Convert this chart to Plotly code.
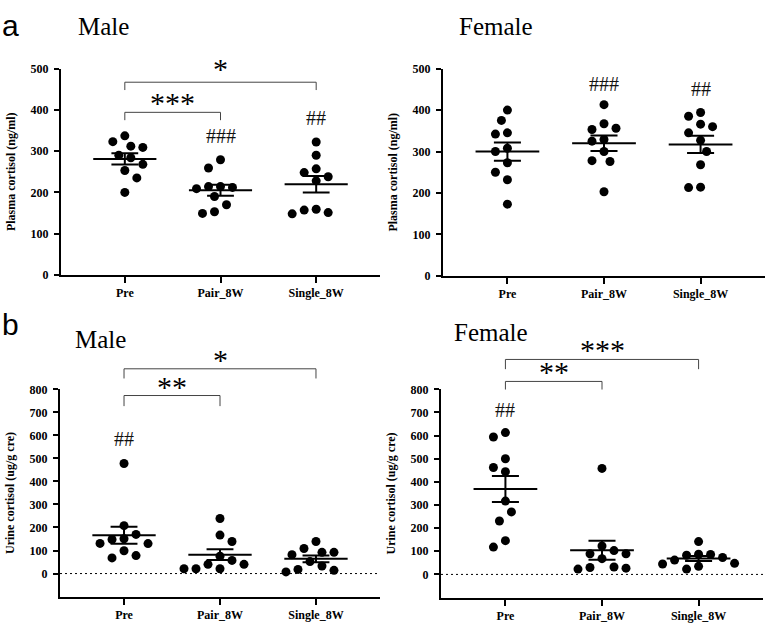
import numpy as np
import plotly.graph_objects as go

W, H = 767, 629

groups = ["Pre", "Pair_8W", "Single_8W"]

# plasma cortisol (ng/ml)
plasma_male_pre = [337, 323, 312, 309, 290, 284, 268, 253, 235, 200]
plasma_male_pair = [279, 259, 214, 214, 212, 209, 190, 170, 153, 149]
plasma_male_single = [322, 290, 257, 248, 238, 228, 159, 157, 151, 148]

plasma_female_pre = [400, 375, 345, 342, 308, 300, 273, 250, 232, 173]
plasma_female_pair = [413, 367, 356, 353, 329, 325, 300, 278, 276, 203]
plasma_female_single = [394, 385, 366, 360, 345, 327, 300, 268, 214, 213]

# urine cortisol (ug/g cre)
urine_male_pre = [478, 208, 170, 151, 148, 131, 130, 99, 78, 68]
urine_male_pair = [239, 167, 139, 75, 57, 40, 40, 21, 21, 21]
urine_male_single = [139, 109, 92, 92, 82, 52, 33, 18, 14, 7]

urine_female_pre = [613, 594, 500, 462, 444, 317, 270, 231, 146, 118]
urine_female_pair = [458, 123, 103, 89, 89, 68, 32, 30, 27, 23]
urine_female_single = [142, 87, 86, 83, 73, 62, 48, 45, 35, 23]

XR = [-0.667, 2.667]
SERIF = "Liberation Serif"

panels = [
    dict(ax="", dom_x=[61 / W, 380 / W], dom_y=[1 - 274 / H, 1 - 63 / H], yr=[0, 500],
         ticks=[0, 100, 200, 300, 400, 500], ytitle="Plasma cortisol (ng/ml)",
         data=[plasma_male_pre, plasma_male_pair, plasma_male_single], zero=False,
         brackets=[(0, 1, 394, 375, "***", 417), (0, 2, 467, 448, "*", 500)],
         hashes=[(1, "###", 336), (2, "##", 380)]),
    dict(ax="2", dom_x=[443 / W, 765 / W], dom_y=[1 - 275 / H, 1 - 63 / H], yr=[0, 500],
         ticks=[0, 100, 200, 300, 400, 500], ytitle="Plasma cortisol (ng/ml)",
         data=[plasma_female_pre, plasma_female_pair, plasma_female_single], zero=False,
         brackets=[],
         hashes=[(1, "###", 462), (2, "##", 450)]),
    dict(ax="3", dom_x=[60 / W, 380 / W], dom_y=[1 - 603 / H, 1 - 391 / H], yr=[-100, 800],
         ticks=list(range(0, 801, 100)), ytitle="Urine cortisol (ug/g cre)",
         data=[urine_male_pre, urine_male_pair, urine_male_single], zero=True,
         brackets=[(0, 1, 773, 727, "**", 813), (0, 2, 889, 847, "*", 931)],
         hashes=[(0, "##", 585)]),
    dict(ax="4", dom_x=[441 / W, 763 / W], dom_y=[1 - 604 / H, 1 - 391 / H], yr=[-100, 800],
         ticks=list(range(0, 801, 100)), ytitle="Urine cortisol (ug/g cre)",
         data=[urine_female_pre, urine_female_pair, urine_female_single], zero=True,
         brackets=[(0, 1, 834, 799, "**", 876), (0, 2, 929, 887, "***", 974)],
         hashes=[(0, "##", 709)]),
]


def swarm(values, px_x, px_y, step=6.0, gap=11.5):
    # simple beeswarm: spread overlapping dots sideways (in pixels)
    vals = np.asarray(values, dtype=float)
    order = np.argsort(-vals)
    placed = []
    offs = np.zeros(len(vals))
    for n, i in enumerate(order):
        yp = vals[i] * px_y
        for k in range(0, 60):
            cands = [0.0] if k == 0 else ([k * step, -k * step] if n % 2 == 0 else [-k * step, k * step])
            ok = None
            for c in cands:
                if all((c - px) ** 2 + (yp - py) ** 2 >= gap ** 2 for px, py in placed):
                    ok = c
                    break
            if ok is not None:
                offs[i] = ok / px_x
                placed.append((ok, yp))
                break
    return offs


fig = go.Figure()
shapes = []
annotations = []

for p in panels:
    xa, ya = "x" + p["ax"], "y" + p["ax"]
    px_x = (p["dom_x"][1] - p["dom_x"][0]) * W / (XR[1] - XR[0])
    px_y = (p["dom_y"][1] - p["dom_y"][0]) * H / (p["yr"][1] - p["yr"][0])
    for gi, vals in enumerate(p["data"]):
        dx = swarm(vals, px_x, px_y)
        fig.add_trace(go.Scatter(
            x=gi + dx, y=vals, mode="markers", xaxis=xa, yaxis=ya,
            marker=dict(color="black", size=9), showlegend=False, cliponaxis=False))
        m = float(np.mean(vals))
        s = float(np.std(vals, ddof=1) / np.sqrt(len(vals)))
        fig.add_trace(go.Scatter(
            x=[gi - 0.33, gi + 0.33], y=[m, m], mode="lines", xaxis=xa, yaxis=ya,
            line=dict(color="black", width=2), showlegend=False))
        fig.add_trace(go.Scatter(
            x=[gi - 0.14, gi + 0.14, None, gi, gi, None, gi - 0.14, gi + 0.14],
            y=[m + s, m + s, None, m - s, m + s, None, m - s, m - s],
            mode="lines", xaxis=xa, yaxis=ya,
            line=dict(color="black", width=2), showlegend=False))

    def xd(v):
        return (v - XR[0]) / (XR[1] - XR[0])

    def yd(v, yr=p["yr"]):
        return (v - yr[0]) / (yr[1] - yr[0])

    xdom, ydom = xa + " domain", ya + " domain"
    for i, j, ytop, ylow, lab, ylab in p["brackets"]:
        shapes.append(dict(type="path", xref=xdom, yref=ydom,
                           path=f"M {xd(i)},{yd(ylow)} L {xd(i)},{yd(ytop)} L {xd(j)},{yd(ytop)} L {xd(j)},{yd(ylow)}",
                           line=dict(color="#444", width=1)))
        annotations.append(dict(xref=xdom, yref=ydom, x=xd((i + j) / 2), y=yd(ylab),
                                text=lab, showarrow=False, xanchor="center", yanchor="middle",
                                font=dict(family=SERIF, size=30, color="black")))
    for gi, lab, yv in p["hashes"]:
        annotations.append(dict(xref=xdom, yref=ydom, x=xd(gi), y=yd(yv),
                                text=lab, showarrow=False, xanchor="center", yanchor="middle",
                                font=dict(family=SERIF, size=20, color="#111")))
    if p["zero"]:
        shapes.append(dict(type="line", xref=xdom, yref=ya, x0=0, x1=1, y0=0, y1=0,
                           line=dict(color="black", width=1, dash="2px,3px")))

    fig.layout["xaxis" + p["ax"]] = dict(
        domain=p["dom_x"], range=XR, anchor=ya, tickvals=[0, 1, 2], ticktext=groups,
        showline=True, linecolor="black", linewidth=2, ticks="outside", ticklen=6,
        tickwidth=2, tickcolor="black", showgrid=False, zeroline=False,
        tickfont=dict(family=SERIF, size=12, color="black", weight="bold"))
    fig.layout["yaxis" + p["ax"]] = dict(
        domain=p["dom_y"], range=p["yr"], anchor=xa, tickvals=p["ticks"],
        showline=True, linecolor="black", linewidth=2, ticks="outside", ticklen=5,
        tickwidth=2, tickcolor="black", showgrid=False, zeroline=False,
        ticklabelstandoff=3,
        tickfont=dict(family=SERIF, size=12, color="black", weight="bold"),
        title=dict(text=p["ytitle"], standoff=12,
                   font=dict(family=SERIF, size=12, color="black", weight="bold")))

# panel letters and titles
for txt, x, y, fam, size in [
    ("a", 10, 0, "Liberation Sans", 30), ("b", 10, 306, "Liberation Sans", 30),
    ("Male", 103, 4, SERIF, 25), ("Female", 496, 4, SERIF, 25),
    ("Male", 100, 324, SERIF, 25), ("Female", 491, 317, SERIF, 25),
]:
    annotations.append(dict(xref="paper", yref="paper", x=x / W, y=1 - y / H, text=txt,
                            showarrow=False, xanchor="center", yanchor="top",
                            font=dict(family=fam, size=size, color="black")))

fig.update_layout(
    width=W, height=H, autosize=False,
    margin=dict(l=0, r=0, t=0, b=0),
    plot_bgcolor="white", paper_bgcolor="white",
    shapes=shapes, annotations=annotations,
)

fig.write_html(
    "out.html",
    config={"displayModeBar": False},
    post_script="document.body.style.margin='0';"
                "document.body.style.overflow='hidden';"
                "document.documentElement.style.overflow='hidden';",
)
